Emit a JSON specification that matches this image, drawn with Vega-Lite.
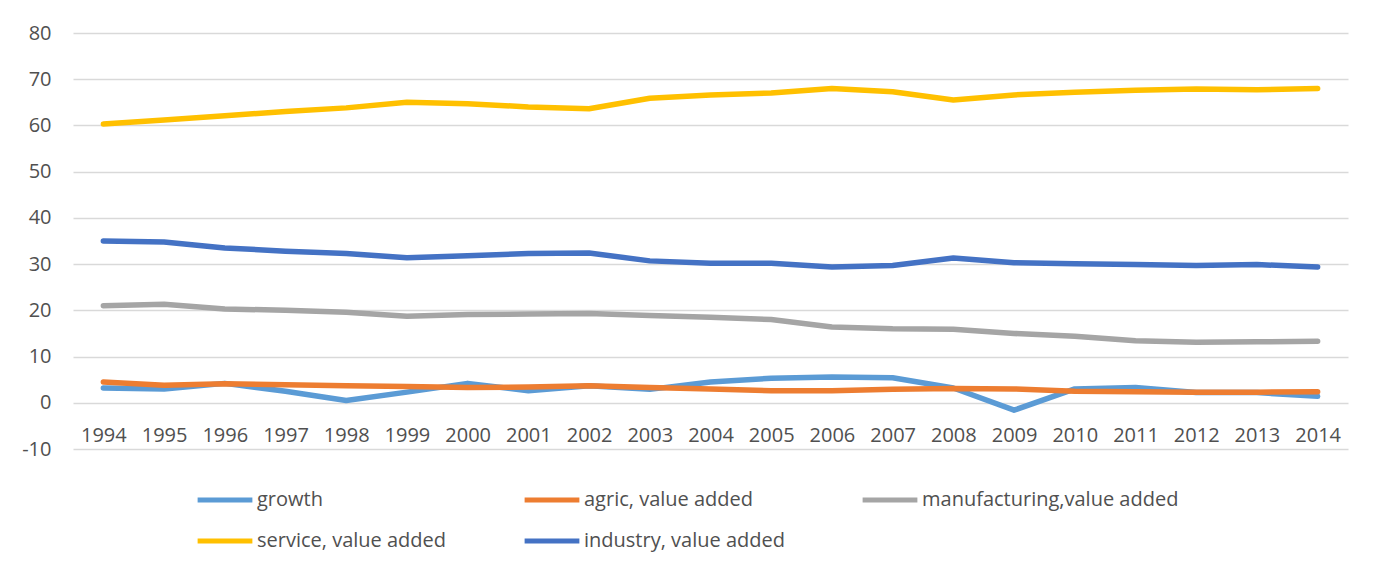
{
  "$schema": "https://vega.github.io/schema/vega-lite/v6.json",
  "width": 1275,
  "height": 416,
  "autosize": {"type": "none"},
  "padding": {"left": 73, "top": 33, "right": 30, "bottom": 132},
  "background": "white",
  "config": {
    "view": {"stroke": null},
    "font": "Open Sans"
  },
  "datasets": {
    "series": [
      {"year": "1994", "series": "growth", "value": 3.2},
      {"year": "1995", "series": "growth", "value": 3.0},
      {"year": "1996", "series": "growth", "value": 4.2},
      {"year": "1997", "series": "growth", "value": 2.5},
      {"year": "1998", "series": "growth", "value": 0.5},
      {"year": "1999", "series": "growth", "value": 2.3},
      {"year": "2000", "series": "growth", "value": 4.2},
      {"year": "2001", "series": "growth", "value": 2.6},
      {"year": "2002", "series": "growth", "value": 3.7},
      {"year": "2003", "series": "growth", "value": 2.9},
      {"year": "2004", "series": "growth", "value": 4.5},
      {"year": "2005", "series": "growth", "value": 5.3},
      {"year": "2006", "series": "growth", "value": 5.6},
      {"year": "2007", "series": "growth", "value": 5.4},
      {"year": "2008", "series": "growth", "value": 3.2},
      {"year": "2009", "series": "growth", "value": -1.6},
      {"year": "2010", "series": "growth", "value": 3.0},
      {"year": "2011", "series": "growth", "value": 3.3},
      {"year": "2012", "series": "growth", "value": 2.2},
      {"year": "2013", "series": "growth", "value": 2.2},
      {"year": "2014", "series": "growth", "value": 1.4},

      {"year": "1994", "series": "agric, value added", "value": 4.5},
      {"year": "1995", "series": "agric, value added", "value": 3.8},
      {"year": "1996", "series": "agric, value added", "value": 4.1},
      {"year": "1997", "series": "agric, value added", "value": 3.9},
      {"year": "1998", "series": "agric, value added", "value": 3.7},
      {"year": "1999", "series": "agric, value added", "value": 3.5},
      {"year": "2000", "series": "agric, value added", "value": 3.3},
      {"year": "2001", "series": "agric, value added", "value": 3.4},
      {"year": "2002", "series": "agric, value added", "value": 3.7},
      {"year": "2003", "series": "agric, value added", "value": 3.3},
      {"year": "2004", "series": "agric, value added", "value": 3.0},
      {"year": "2005", "series": "agric, value added", "value": 2.6},
      {"year": "2006", "series": "agric, value added", "value": 2.6},
      {"year": "2007", "series": "agric, value added", "value": 2.9},
      {"year": "2008", "series": "agric, value added", "value": 3.1},
      {"year": "2009", "series": "agric, value added", "value": 3.0},
      {"year": "2010", "series": "agric, value added", "value": 2.5},
      {"year": "2011", "series": "agric, value added", "value": 2.4},
      {"year": "2012", "series": "agric, value added", "value": 2.3},
      {"year": "2013", "series": "agric, value added", "value": 2.3},
      {"year": "2014", "series": "agric, value added", "value": 2.4},

      {"year": "1994", "series": "manufacturing,value added", "value": 21.0},
      {"year": "1995", "series": "manufacturing,value added", "value": 21.3},
      {"year": "1996", "series": "manufacturing,value added", "value": 20.3},
      {"year": "1997", "series": "manufacturing,value added", "value": 20.0},
      {"year": "1998", "series": "manufacturing,value added", "value": 19.6},
      {"year": "1999", "series": "manufacturing,value added", "value": 18.7},
      {"year": "2000", "series": "manufacturing,value added", "value": 19.1},
      {"year": "2001", "series": "manufacturing,value added", "value": 19.2},
      {"year": "2002", "series": "manufacturing,value added", "value": 19.3},
      {"year": "2003", "series": "manufacturing,value added", "value": 18.9},
      {"year": "2004", "series": "manufacturing,value added", "value": 18.5},
      {"year": "2005", "series": "manufacturing,value added", "value": 18.0},
      {"year": "2006", "series": "manufacturing,value added", "value": 16.4},
      {"year": "2007", "series": "manufacturing,value added", "value": 16.0},
      {"year": "2008", "series": "manufacturing,value added", "value": 15.9},
      {"year": "2009", "series": "manufacturing,value added", "value": 15.0},
      {"year": "2010", "series": "manufacturing,value added", "value": 14.4},
      {"year": "2011", "series": "manufacturing,value added", "value": 13.4},
      {"year": "2012", "series": "manufacturing,value added", "value": 13.1},
      {"year": "2013", "series": "manufacturing,value added", "value": 13.2},
      {"year": "2014", "series": "manufacturing,value added", "value": 13.3},

      {"year": "1994", "series": "service, value added", "value": 60.3},
      {"year": "1995", "series": "service, value added", "value": 61.2},
      {"year": "1996", "series": "service, value added", "value": 62.1},
      {"year": "1997", "series": "service, value added", "value": 63.0},
      {"year": "1998", "series": "service, value added", "value": 63.8},
      {"year": "1999", "series": "service, value added", "value": 65.0},
      {"year": "2000", "series": "service, value added", "value": 64.7},
      {"year": "2001", "series": "service, value added", "value": 64.0},
      {"year": "2002", "series": "service, value added", "value": 63.6},
      {"year": "2003", "series": "service, value added", "value": 65.9},
      {"year": "2004", "series": "service, value added", "value": 66.6},
      {"year": "2005", "series": "service, value added", "value": 67.0},
      {"year": "2006", "series": "service, value added", "value": 68.0},
      {"year": "2007", "series": "service, value added", "value": 67.3},
      {"year": "2008", "series": "service, value added", "value": 65.5},
      {"year": "2009", "series": "service, value added", "value": 66.6},
      {"year": "2010", "series": "service, value added", "value": 67.2},
      {"year": "2011", "series": "service, value added", "value": 67.6},
      {"year": "2012", "series": "service, value added", "value": 67.9},
      {"year": "2013", "series": "service, value added", "value": 67.7},
      {"year": "2014", "series": "service, value added", "value": 68.0},

      {"year": "1994", "series": "industry, value added", "value": 35.0},
      {"year": "1995", "series": "industry, value added", "value": 34.8},
      {"year": "1996", "series": "industry, value added", "value": 33.5},
      {"year": "1997", "series": "industry, value added", "value": 32.8},
      {"year": "1998", "series": "industry, value added", "value": 32.3},
      {"year": "1999", "series": "industry, value added", "value": 31.4},
      {"year": "2000", "series": "industry, value added", "value": 31.8},
      {"year": "2001", "series": "industry, value added", "value": 32.3},
      {"year": "2002", "series": "industry, value added", "value": 32.4},
      {"year": "2003", "series": "industry, value added", "value": 30.7},
      {"year": "2004", "series": "industry, value added", "value": 30.2},
      {"year": "2005", "series": "industry, value added", "value": 30.2},
      {"year": "2006", "series": "industry, value added", "value": 29.4},
      {"year": "2007", "series": "industry, value added", "value": 29.7},
      {"year": "2008", "series": "industry, value added", "value": 31.3},
      {"year": "2009", "series": "industry, value added", "value": 30.3},
      {"year": "2010", "series": "industry, value added", "value": 30.1},
      {"year": "2011", "series": "industry, value added", "value": 29.9},
      {"year": "2012", "series": "industry, value added", "value": 29.7},
      {"year": "2013", "series": "industry, value added", "value": 29.9},
      {"year": "2014", "series": "industry, value added", "value": 29.4}
    ]
  },
  "data": {"name": "series"},
  "mark": {"type": "line", "strokeWidth": 5.5, "strokeCap": "round", "strokeJoin": "round"},
  "encoding": {
    "x": {
      "field": "year",
      "type": "ordinal",
      "scale": {"type": "point", "padding": 0.5},
      "axis": {
        "title": null,
        "labelAngle": 0,
        "domain": false,
        "ticks": false,
        "grid": false,
        "offset": -46.2,
        "labelPadding": 23,
        "labelFontSize": 20,
        "labelColor": "#505050"
      }
    },
    "y": {
      "field": "value",
      "type": "quantitative",
      "scale": {"domain": [-10, 80], "nice": false, "zero": false},
      "axis": {
        "title": null,
        "values": [-10, 0, 10, 20, 30, 40, 50, 60, 70, 80],
        "labelExpr": "datum.value",
        "domain": false,
        "ticks": false,
        "gridColor": "#D9D9D9",
        "gridWidth": 1.3,
        "labelPadding": 22,
        "labelFontSize": 20,
        "labelColor": "#505050"
      }
    },
    "color": {
      "field": "series",
      "type": "nominal",
      "sort": ["growth", "agric, value added", "manufacturing,value added", "service, value added", "industry, value added"],
      "scale": {
        "domain": ["growth", "agric, value added", "manufacturing,value added", "service, value added", "industry, value added"],
        "range": ["#5B9BD5", "#ED7D31", "#A5A5A5", "#FFC000", "#4472C4"]
      },
      "legend": {
        "title": null,
        "orient": "none",
        "legendX": 122,
        "legendY": 437,
        "direction": "horizontal",
        "columns": 3,
        "symbolType": "stroke",
        "symbolSize": 3000,
        "symbolStrokeWidth": 5,
        "labelFontSize": 20,
        "labelColor": "#505050",
        "labelOffset": 2,
        "labelLimit": 400,
        "columnPadding": 67,
        "rowPadding": 1
      }
    }
  }
}
